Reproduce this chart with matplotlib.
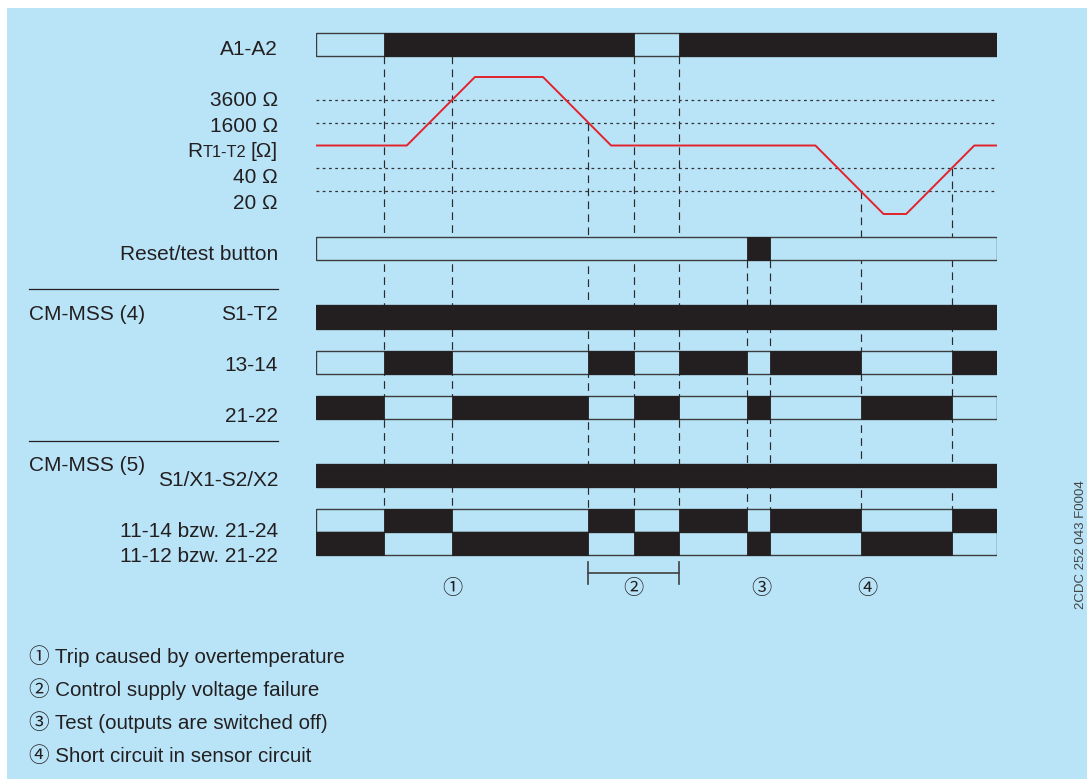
import numpy as np
import matplotlib
matplotlib.use("Agg")
import matplotlib.pyplot as plt
from matplotlib.patches import Rectangle

plt.rcParams["font.family"] = ["Liberation Sans", "Noto Sans CJK JP", "DejaVu Sans"]

# ---------------------------------------------------------------- data
# switching instants on a common time scale (arbitrary units)
edges = [0, 3, 6, 12, 14, 16, 19, 20, 24, 28, 30]

# state per interval between consecutive edges (1 = energised / closed)
a1_a2 = [0, 1, 1, 1, 0, 1, 1, 1, 1, 1]
reset_button = [0, 0, 0, 0, 0, 0, 1, 0, 0, 0]
s1_t2 = [1, 1, 1, 1, 1, 1, 1, 1, 1, 1]
out_13_14 = [0, 1, 0, 1, 0, 1, 0, 1, 0, 1]
out_21_22 = [1, 0, 1, 0, 1, 0, 1, 0, 1, 0]
s1x1_s2x2 = [1, 1, 1, 1, 1, 1, 1, 1, 1, 1]
out_11_14 = [0, 1, 0, 1, 0, 1, 0, 1, 0, 1]
out_11_12 = [1, 0, 1, 0, 1, 0, 1, 0, 1, 0]

# sensor resistance course (level 1 = 20 Ω ... level 5 = 3600 Ω)
r_time = [0, 4, 7, 10, 13, 22, 25, 26, 29, 30]
r_level = [3, 3, 6, 6, 3, 3, 0, 0, 3, 3]
threshold_levels = [5, 4, 2, 1]
threshold_labels = ["3600 Ω", "1600 Ω", "40 Ω", "20 Ω"]

# reference lines: time and where they start
marker_times = [3, 6, 12, 14, 16, 19, 20, 24, 28]
marker_anchor = ["a1", "a1", "r", "a1", "a1", "btn", "btn", "r", "r"]

# event annotations
event_marks = ["①", "②", "③", "④"]
event_times = [6, 14, 19.6, 24.3]
supply_failure = (12, 16)
event_texts = ["Trip caused by overtemperature",
               "Control supply voltage failure",
               "Test (outputs are switched off)",
               "Short circuit in sensor circuit"]

# ---------------------------------------------------------------- style
BG = "#b9e4f8"
INK = "#231f20"
EDGE = "#3c3c3c"
RED = "#e3232b"
FS = 15.0

W, H = 1087, 779
X0, X1 = 316, 997
R_TOP, R_BOT = 77, 214

fig = plt.figure(figsize=(W / 100, H / 100), dpi=100)
fig.patch.set_facecolor("white")

base = fig.add_axes([0, 0, 1, 1])
base.set_xlim(0, W)
base.set_ylim(H, 0)
base.axis("off")
base.add_patch(Rectangle((6.5, 8), W - 6.5, H - 8, facecolor=BG,
                         edgecolor="none", zorder=0))

diag = fig.add_axes([X0 / W, 0, (X1 - X0) / W, 1])
diag.set_xlim(edges[0], edges[-1])
diag.set_ylim(H, 0)
diag.axis("off")
diag.patch.set_visible(False)

res = fig.add_axes([X0 / W, 1 - R_BOT / H, (X1 - X0) / W, (R_BOT - R_TOP) / H])
res.set_xlim(edges[0], edges[-1])
res.set_ylim(0, 6)
res.axis("off")
res.patch.set_visible(False)

# ---------------------------------------------------------------- rows
rows = [
    (a1_a2, 32.5, 23),
    (reset_button, 237, 22.5),
    (s1_t2, 304.5, 24),
    (out_13_14, 350.5, 23),
    (out_21_22, 395.5, 23),
    (s1x1_s2x2, 463.5, 23.5),
    (out_11_14, 509, 23),
    (out_11_12, 532, 22.5),
]


def draw_row(states, top, h):
    diag.add_patch(Rectangle((edges[0], top), edges[-1] - edges[0], h,
                             facecolor=BG, edgecolor=EDGE, lw=1.0, zorder=3))
    spans = [(edges[i], edges[i + 1] - edges[i])
             for i, s in enumerate(states) if s]
    diag.broken_barh(spans, (top, h), facecolors=INK, edgecolors=INK,
                     lw=0.6, zorder=4)


for states, top, h in rows:
    draw_row(states, top, h)

# ---------------------------------------------------------------- resistance
for lv in threshold_levels:
    res.axhline(lv, color="#333333", lw=0.9, ls=(0, (2.2, 2.8)), zorder=2)
res.plot(r_time, r_level, color=RED, lw=1.4, zorder=5, clip_on=False,
         solid_capstyle="butt")

# ---------------------------------------------------------------- reference lines
a1_bottom = rows[0][1] + rows[0][2]
btn_bottom = rows[1][1] + rows[1][2]
lines_end = rows[6][1]
to_diag = diag.transData.inverted()
for t, anchor in zip(marker_times, marker_anchor):
    if anchor == "a1":
        y0 = a1_bottom
    elif anchor == "btn":
        y0 = btn_bottom
    else:
        lv = np.interp(t, r_time, r_level)
        y0 = to_diag.transform(res.transData.transform((t, lv)))[1]
    diag.plot([t, t], [y0, lines_end], color="#2a2a2a", lw=0.85,
              ls=(0, (6.5, 4.5)), zorder=2)

# ---------------------------------------------------------------- labels
def label(x, y, s, ha="right", size=FS):
    base.text(x, y, s, ha=ha, va="baseline", fontsize=size, color=INK)


label(278, 55, "A1-A2")
for s, y in zip(threshold_labels[:2], [106, 131.7]):
    label(278, y, s)
label(278, 156.7, "[Ω]")
label(246, 156.7, "T1-T2", size=11.8)
label(202.5, 156.7, "R")
for s, y in zip(threshold_labels[2:], [182.7, 208.7]):
    label(278, y, s)
label(278, 260.5, "Reset/test button")

label(29, 320, "CM-MSS (4)", ha="left")
label(278, 320, "S1-T2")
label(278, 371, "13-14")
label(278, 422, "21-22")
label(29, 470.5, "CM-MSS (5)", ha="left")
label(278, 486, "S1/X1-S2/X2")
label(278, 537, "11-14 bzw. 21-24")
label(278, 562.5, "11-12 bzw. 21-22")

for y in (289, 440.5):
    base.plot([29, 278], [y, y], color=INK, lw=0.9)

# ---------------------------------------------------------------- event marks
t0, t1 = supply_failure
diag.plot([t0, t1], [572.7, 572.7], color="#404040", lw=1.2)
for t in supply_failure:
    diag.plot([t, t], [561.5, 583.5], color="#404040", lw=1.2)
for m, t in zip(event_marks, event_times):
    diag.text(t, 588, m, ha="center", va="center", fontsize=14.5, color=INK)

for i, (m, s) in enumerate(zip(event_marks, event_texts)):
    base.text(29, 662.7 + 33 * i, f"{m} {s}", ha="left", va="baseline",
              fontsize=14.8, color=INK)

base.text(1081, 545, "2CDC 252 043 F0004", rotation=90, ha="center",
          va="center", fontsize=9.5, color="#444444")

fig.savefig("out.png", dpi=100, facecolor=fig.get_facecolor())
